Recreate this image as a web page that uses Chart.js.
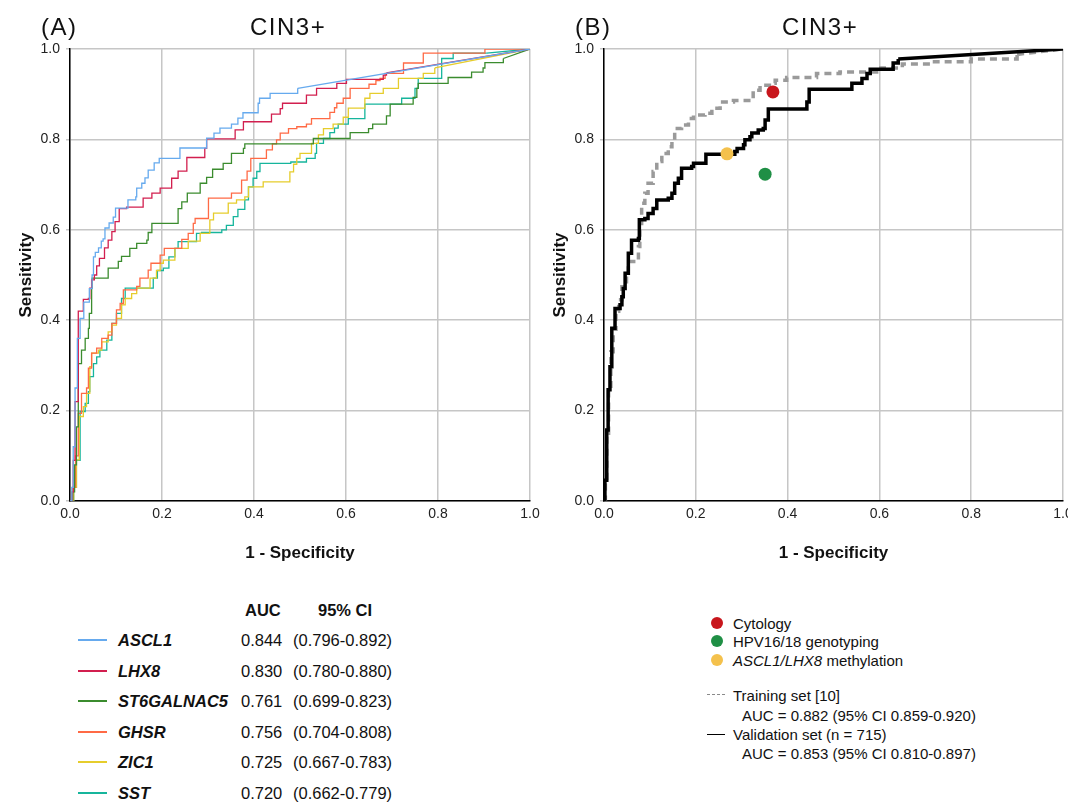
<!DOCTYPE html>
<html>
<head>
<meta charset="utf-8">
<script src="https://cdn.jsdelivr.net/npm/chart.js@4.4.1/dist/chart.umd.min.js"></script>
<style>
  html, body { margin: 0; padding: 0; background: #fff; }
  body { width: 1068px; height: 802px; overflow: hidden; position: relative;
         font-family: "Liberation Sans", Arial, Helvetica, sans-serif; color: #111; }
  canvas { position: absolute; top: 0; }
  .t { position: absolute; white-space: nowrap; line-height: 1; }
  .big { font-size: 24px; letter-spacing: 1.5px; }
  .lg { font-size: 16.5px; }
  .rg { font-size: 15px; }
  .sw { position: absolute; height: 0; }
</style>
</head>
<body>
<canvas id="rocA" width="545" height="585" style="left:0px"></canvas>
<canvas id="rocB" width="545" height="585" style="left:534px"></canvas>

<div class="t big" style="left:41px; top:15px;">(A)</div>
<div class="t big" style="left:250px; top:15px;">CIN3+</div>
<div class="t big" style="left:575px; top:15px;">(B)</div>
<div class="t big" style="left:782px; top:15px;">CIN3+</div>

<div id="legA"></div>
<div id="legB"></div>

<script>
// panel A : ROC curves per marker (1 - specificity, sensitivity)
let genes = ['ASCL1', 'LHX8', 'ST6GALNAC5', 'GHSR', 'ZIC1', 'SST'];
let geneAuc = ['0.844', '0.830', '0.761', '0.756', '0.725', '0.720'];
let geneCi = ['(0.796-0.892)', '(0.780-0.880)', '(0.699-0.823)', '(0.704-0.808)', '(0.667-0.783)', '(0.662-0.779)'];
let geneColors = ['#66aaee', '#d21f4f', '#3b8c2e', '#ff6a45', '#e6cd2c', '#16b59c'];

let ascl1X = [0, 0.004, 0.007, 0.011, 0.016, 0.022, 0.030, 0.042, 0.048, 0.051, 0.055, 0.062, 0.068, 0.072, 0.076, 0.085, 0.094, 0.099, 0.126, 0.143, 0.145, 0.156, 0.163, 0.170, 0.183, 0.194, 0.239, 0.297, 0.313, 0.326, 0.351, 0.365, 0.376, 0.409, 0.412, 0.435, 0.495, 1];
let ascl1Y = [0, 0.03, 0.12, 0.25, 0.36, 0.404, 0.44, 0.47, 0.50, 0.54, 0.55, 0.56, 0.575, 0.58, 0.604, 0.615, 0.628, 0.648, 0.666, 0.673, 0.692, 0.703, 0.715, 0.732, 0.748, 0.758, 0.781, 0.803, 0.814, 0.825, 0.834, 0.847, 0.859, 0.880, 0.891, 0.902, 0.913, 1];

let lhx8X = [0, 0.004, 0.007, 0.011, 0.018, 0.029, 0.040, 0.043, 0.047, 0.053, 0.058, 0.064, 0.075, 0.083, 0.091, 0.098, 0.107, 0.123, 0.159, 0.178, 0.196, 0.221, 0.235, 0.254, 0.293, 0.297, 0.359, 0.377, 0.438, 0.457, 0.462, 0.514, 0.536, 0.580, 0.601, 0.681, 0.688, 1];
let lhx8Y = [0, 0.02, 0.09, 0.22, 0.42, 0.446, 0.448, 0.471, 0.489, 0.50, 0.52, 0.537, 0.56, 0.577, 0.596, 0.618, 0.647, 0.650, 0.670, 0.681, 0.692, 0.714, 0.73, 0.760, 0.780, 0.801, 0.821, 0.839, 0.856, 0.868, 0.880, 0.898, 0.913, 0.924, 0.933, 0.942, 0.947, 1];

let st6X = [0, 0.006, 0.010, 0.014, 0.018, 0.025, 0.033, 0.040, 0.042, 0.047, 0.048, 0.083, 0.105, 0.112, 0.130, 0.145, 0.167, 0.170, 0.178, 0.235, 0.243, 0.255, 0.283, 0.297, 0.310, 0.333, 0.351, 0.377, 0.380, 0.529, 0.609, 0.649, 0.658, 0.688, 0.696, 0.746, 0.754, 0.757, 0.822, 0.873, 0.898, 0.902, 0.942, 1];
let st6Y = [0, 0.02, 0.08, 0.164, 0.304, 0.334, 0.360, 0.382, 0.415, 0.471, 0.493, 0.515, 0.530, 0.541, 0.559, 0.570, 0.577, 0.594, 0.614, 0.647, 0.662, 0.681, 0.703, 0.716, 0.734, 0.747, 0.769, 0.780, 0.790, 0.802, 0.815, 0.824, 0.834, 0.852, 0.878, 0.893, 0.913, 0.924, 0.937, 0.949, 0.958, 0.970, 0.979, 1];

let ghsrX = [0, 0.006, 0.012, 0.018, 0.025, 0.036, 0.040, 0.047, 0.058, 0.069, 0.083, 0.091, 0.101, 0.109, 0.116, 0.145, 0.152, 0.170, 0.176, 0.196, 0.205, 0.243, 0.257, 0.268, 0.272, 0.301, 0.351, 0.373, 0.385, 0.393, 0.427, 0.440, 0.449, 0.457, 0.475, 0.493, 0.514, 0.525, 0.565, 0.575, 0.580, 0.594, 0.609, 0.650, 0.665, 0.674, 0.685, 0.725, 0.768, 0.902, 1];
let ghsrY = [0, 0.03, 0.10, 0.194, 0.238, 0.25, 0.294, 0.327, 0.338, 0.360, 0.367, 0.393, 0.423, 0.437, 0.467, 0.475, 0.493, 0.511, 0.526, 0.544, 0.559, 0.579, 0.592, 0.614, 0.625, 0.670, 0.681, 0.710, 0.73, 0.758, 0.777, 0.79, 0.799, 0.814, 0.824, 0.828, 0.834, 0.846, 0.86, 0.87, 0.880, 0.891, 0.913, 0.922, 0.930, 0.935, 0.946, 0.969, 0.991, 1.0, 1];

let zic1X = [0, 0.008, 0.014, 0.020, 0.029, 0.036, 0.043, 0.047, 0.062, 0.069, 0.083, 0.091, 0.101, 0.112, 0.120, 0.134, 0.145, 0.174, 0.188, 0.196, 0.203, 0.228, 0.257, 0.283, 0.304, 0.312, 0.344, 0.362, 0.380, 0.388, 0.420, 0.478, 0.486, 0.493, 0.500, 0.525, 0.540, 0.551, 0.572, 0.594, 0.605, 0.641, 0.652, 0.681, 0.714, 0.768, 0.793, 1];
let zic1Y = [0, 0.03, 0.091, 0.187, 0.209, 0.238, 0.297, 0.327, 0.334, 0.352, 0.374, 0.389, 0.404, 0.434, 0.448, 0.459, 0.471, 0.493, 0.51, 0.526, 0.533, 0.559, 0.575, 0.592, 0.622, 0.637, 0.659, 0.666, 0.673, 0.695, 0.706, 0.728, 0.745, 0.758, 0.769, 0.791, 0.810, 0.824, 0.834, 0.849, 0.869, 0.891, 0.902, 0.913, 0.935, 0.946, 0.958, 1];

let sstX = [0, 0.008, 0.014, 0.022, 0.033, 0.040, 0.043, 0.051, 0.058, 0.065, 0.080, 0.091, 0.101, 0.112, 0.120, 0.181, 0.190, 0.203, 0.215, 0.228, 0.235, 0.275, 0.286, 0.330, 0.340, 0.355, 0.365, 0.380, 0.388, 0.398, 0.406, 0.413, 0.480, 0.514, 0.533, 0.536, 0.551, 0.565, 0.575, 0.583, 0.605, 0.641, 0.721, 0.750, 0.757, 0.808, 0.833, 0.906, 1];
let sstY = [0, 0.03, 0.09, 0.198, 0.216, 0.242, 0.275, 0.304, 0.319, 0.334, 0.356, 0.393, 0.415, 0.448, 0.471, 0.493, 0.51, 0.515, 0.54, 0.559, 0.574, 0.592, 0.594, 0.60, 0.61, 0.629, 0.645, 0.666, 0.695, 0.714, 0.729, 0.747, 0.75, 0.758, 0.769, 0.791, 0.802, 0.815, 0.825, 0.834, 0.846, 0.878, 0.891, 0.913, 0.935, 0.979, 0.991, 0.991, 1];

// panel B : classifier ROC (training / validation) and single test points
let trainX = [0, 0.003, 0.006, 0.010, 0.015, 0.020, 0.026, 0.032, 0.039, 0.049, 0.053, 0.075, 0.078, 0.082, 0.089, 0.096, 0.107, 0.115, 0.126, 0.140, 0.148, 0.154, 0.169, 0.184, 0.195, 0.220, 0.235, 0.253, 0.282, 0.311, 0.325, 0.340, 0.365, 0.373, 0.398, 0.463, 0.514, 0.594, 0.650, 0.720, 0.800, 0.900, 1];
let trainY = [0, 0.05, 0.15, 0.25, 0.33, 0.38, 0.42, 0.445, 0.474, 0.504, 0.530, 0.563, 0.614, 0.659, 0.681, 0.703, 0.729, 0.751, 0.769, 0.784, 0.799, 0.824, 0.832, 0.846, 0.854, 0.858, 0.869, 0.883, 0.886, 0.886, 0.909, 0.920, 0.924, 0.931, 0.937, 0.946, 0.949, 0.958, 0.967, 0.972, 0.978, 0.988, 1];

let validX = [0, 0.002, 0.006, 0.009, 0.013, 0.017, 0.024, 0.035, 0.039, 0.042, 0.046, 0.053, 0.060, 0.075, 0.077, 0.089, 0.096, 0.107, 0.115, 0.140, 0.148, 0.154, 0.162, 0.169, 0.191, 0.195, 0.222, 0.285, 0.290, 0.304, 0.307, 0.318, 0.322, 0.336, 0.347, 0.351, 0.358, 0.442, 0.447, 0.540, 0.562, 0.573, 0.580, 0.630, 0.641, 1];
let validY = [0, 0.046, 0.157, 0.246, 0.297, 0.382, 0.426, 0.434, 0.452, 0.470, 0.504, 0.548, 0.577, 0.581, 0.622, 0.625, 0.636, 0.647, 0.666, 0.670, 0.681, 0.703, 0.714, 0.736, 0.740, 0.747, 0.767, 0.773, 0.780, 0.788, 0.799, 0.806, 0.814, 0.821, 0.824, 0.843, 0.867, 0.883, 0.911, 0.924, 0.935, 0.946, 0.955, 0.969, 0.978, 1];

let testNames = ['Cytology', 'HPV16/18 genotyping', 'ASCL1/LHX8 methylation'];
let testX = [0.368, 0.351, 0.268];
let testY = [0.905, 0.723, 0.768];
let testColors = ['#c8161c', '#1f8f45', '#f4c14c'];

let axisTicks = [0, 0.2, 0.4, 0.6, 0.8, 1.0];

Chart.defaults.font.family = "'Liberation Sans', Arial, Helvetica, sans-serif";
Chart.defaults.color = '#222';

function pts(xs, ys) {
    return xs.map(function (x, i) { return { x: x, y: ys[i] }; });
}

// stepped part of a ROC curve, and the straight tie segment up to (1,1)
function rocSets(xs, ys, color, width, dash) {
    let all = pts(xs, ys);
    let n = all.length;
    let base = { borderColor: color, borderWidth: width, borderDash: dash || [],
                 pointRadius: 0, fill: false, tension: 0 };
    return [
        Object.assign({ data: all.slice(0, n - 1), stepped: 'before' }, base),
        Object.assign({ data: all.slice(n - 2), stepped: false }, base)
    ];
}

function scales() {
    return {
        x: {
            type: 'linear', min: 0, max: 1,
            afterBuildTicks: function (s) { s.ticks = axisTicks.map(function (v) { return { value: v }; }); },
            afterFit: function (s) { s.height = 84; },
            grid: { color: '#c6c6c6', lineWidth: 1.5, drawTicks: false },
            border: { color: '#000', width: 1.5 },
            ticks: { font: { size: 14 }, padding: 5, maxRotation: 0,
                     callback: function (v) { return v.toFixed(1); } },
            title: { display: true, text: '1 - Specificity', font: { size: 17, weight: 'bold' },
                     color: '#111', padding: { top: 0, bottom: 21 } }
        },
        y: {
            type: 'linear', min: 0, max: 1,
            afterBuildTicks: function (s) { s.ticks = axisTicks.map(function (v) { return { value: v }; }); },
            afterFit: function (s) { s.width = 70; },
            grid: { color: '#c6c6c6', lineWidth: 1.5, drawTicks: true, tickLength: 4 },
            border: { color: '#000', width: 1.5 },
            ticks: { font: { size: 14 }, padding: 6,
                     callback: function (v) { return v.toFixed(1); } },
            title: { display: true, text: 'Sensitivity', font: { size: 17, weight: 'bold' },
                     color: '#111', padding: { top: 16, bottom: 0 } }
        }
    };
}

function opts(rightPad) {
    return {
        responsive: false,
        animation: false,
        layout: { padding: { top: 49, right: rightPad, left: 0, bottom: 0 } },
        plugins: { legend: { display: false }, tooltip: { enabled: false } },
        scales: scales()
    };
}

// panel A
let setsA = [];
let geneX = [ascl1X, lhx8X, st6X, ghsrX, zic1X, sstX];
let geneY = [ascl1Y, lhx8Y, st6Y, ghsrY, zic1Y, sstY];
for (let i = 0; i < genes.length; i++) {
    setsA = setsA.concat(rocSets(geneX[i], geneY[i], geneColors[i], 1.3));
}
new Chart(document.getElementById('rocA').getContext('2d'), {
    type: 'line',
    data: { datasets: setsA },
    options: opts(15)
});

// panel B
let setsB = [];
for (let i = 0; i < testNames.length; i++) {
    setsB.push({ type: 'scatter', data: [{ x: testX[i], y: testY[i] }], pointRadius: 6.5,
                 pointBackgroundColor: testColors[i], pointBorderWidth: 0, showLine: false });
}
setsB = setsB.concat(rocSets(validX, validY, '#000', 3.5));
setsB = setsB.concat(rocSets(trainX, trainY, '#9a9a9a', 3.5, [7, 5]));
new Chart(document.getElementById('rocB').getContext('2d'), {
    type: 'line',
    data: { datasets: setsB },
    options: opts(16)
});

// legend A (table with AUC and CI)
let legA = document.getElementById('legA');
let html = '<div class="t lg" style="left:245px; top:602px; font-weight:bold;">AUC</div>' +
           '<div class="t lg" style="left:318px; top:602px; font-weight:bold;">95% CI</div>';
for (let i = 0; i < genes.length; i++) {
    let y = 640 + i * 30.6;
    html += '<div class="sw" style="left:78px; width:29px; top:' + (y - 1) + 'px; border-top:2px solid ' + geneColors[i] + ';"></div>';
    html += '<div class="t lg" style="left:118px; top:' + (y - 8) + 'px; font-weight:bold; font-style:italic;">' + genes[i] + '</div>';
    html += '<div class="t lg" style="left:241px; top:' + (y - 8) + 'px;">' + geneAuc[i] + '</div>';
    html += '<div class="t lg" style="left:293px; top:' + (y - 8) + 'px;">' + geneCi[i] + '</div>';
}
legA.innerHTML = html;

// legend B
let legB = document.getElementById('legB');
let hb = '';
let testLabels = ['Cytology', 'HPV16/18 genotyping', '<i>ASCL1/LHX8</i> methylation'];
for (let i = 0; i < testNames.length; i++) {
    let y = 623 + i * 18.3;
    hb += '<div style="position:absolute; left:711px; top:' + (y - 6) + 'px; width:12px; height:12px; border-radius:6px; background:' + testColors[i] + ';"></div>';
    hb += '<div class="t rg" style="left:733px; top:' + (y - 7) + 'px;">' + testLabels[i] + '</div>';
}
hb += '<div class="sw" style="left:707px; width:18px; top:694px; border-top:1px dashed #8a8a8a;"></div>';
hb += '<div class="t rg" style="left:733px; top:688px;">Training set [10]</div>';
hb += '<div class="t rg" style="left:742px; top:708px;">AUC = 0.882 (95% CI 0.859-0.920)</div>';
hb += '<div class="sw" style="left:707px; width:18px; top:734px; border-top:1.5px solid #000;"></div>';
hb += '<div class="t rg" style="left:733px; top:727px;">Validation set (n = 715)</div>';
hb += '<div class="t rg" style="left:742px; top:746px;">AUC = 0.853 (95% CI 0.810-0.897)</div>';
legB.innerHTML = hb;
</script>
</body>
</html>
